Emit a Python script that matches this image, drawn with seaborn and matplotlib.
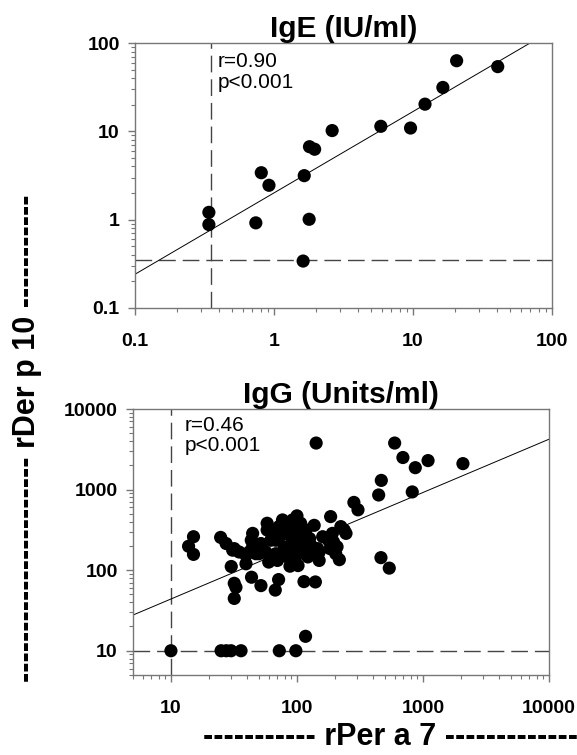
import numpy as np
import pandas as pd
import seaborn as sns
import matplotlib
matplotlib.use("Agg")
import matplotlib.pyplot as plt
from matplotlib.ticker import FixedLocator, LogLocator, FuncFormatter, NullFormatter

# IgE panel (IU/ml)
ige_x = [0.34, 0.34, 0.74, 0.81, 0.92, 1.65, 1.62, 1.79, 1.80, 1.96, 2.62,
         5.87, 9.6, 12.2, 16.4, 20.6, 40.7]
ige_y = [1.21, 0.88, 0.92, 3.4, 2.45, 3.15, 0.34, 1.01, 6.7, 6.27, 10.2,
         11.4, 10.9, 20.3, 31.4, 63, 54]
ige_fit = (0.921, 0.303)        # slope, intercept in log10 space
ige_cut = 0.35

# IgG panel (Units/ml)
igg_x = [142, 596, 693, 1097, 869, 2075, 467, 445, 822, 283, 305, 185, 464, 540,
         15.1, 13.8, 15.1,
         24.8, 27.4, 31.8, 30.1, 31.8, 32.8, 31.8, 43.6, 51.8, 67.3, 71.5, 113.7, 140, 117,
         10, 25, 27.5, 30, 36, 72.4, 98,
         88, 102, 217, 39.4, 44.5, 43.4,
         34.8, 39.4, 44.5, 47.2, 56.6, 58, 58, 59.7, 62, 68, 70, 72, 74.5, 79.3, 81.8,
         87, 89.5, 92.3, 98, 100, 104, 104, 107, 110, 115, 118, 126, 129, 135, 137,
         146, 150, 160, 183, 191, 195, 203, 208, 223, 237, 245, 51.8, 64, 84, 94.6,
         122, 76.8, 98, 68, 50, 41.8, 30.9, 150, 178, 92.3, 81.8]
igg_y = [3780, 3780, 2500, 2290, 1870, 2100, 1300, 857, 935, 693, 561, 462, 143, 106,
         260, 198, 157,
         255, 214, 185, 111, 68.7, 61.2, 44.6, 81.7, 64.3, 56.6, 76.4, 72.1, 71.4, 15.1,
         10, 10, 10, 10, 10, 10, 10,
         112, 114, 135, 120, 286, 235,
         168, 153, 195, 160, 168, 382, 315, 126, 235, 160, 132, 347, 272, 195, 286,
         382, 168, 235, 315, 472, 214, 160, 382, 272, 195, 315, 247, 204, 160, 360,
         185, 168, 260, 185, 286, 224, 160, 195, 347, 315, 286, 214, 272, 146, 132,
         146, 420, 168, 235, 160, 168, 177, 132, 235, 420, 320]
igg_fit = (0.661, 0.981)
igg_cut = 10

W, H = 577, 755
sns.set_style("white")
plt.rcParams['font.family'] = ['Liberation Sans', 'DejaVu Sans']
plt.rcParams['text.color'] = 'black'

fig = plt.figure(figsize=(W / 100, H / 100), dpi=100)
ax1 = fig.add_axes([135 / W, 1 - 308 / H, 417 / W, 265 / H])
ax2 = fig.add_axes([133 / W, 1 - 675 / H, 416 / W, 266 / H])

panels = [
    (ax1, ige_x, ige_y, ige_fit, ige_cut, (0.1, 100), (0.1, 100),
     [0.1, 1, 10, 100], [0.1, 1, 10, 100], "IgE (IU/ml)", "r=0.90\np<0.001", (0.199, 0.965)),
    (ax2, igg_x, igg_y, igg_fit, igg_cut, (5, 10000), (5, 10000),
     [10, 100, 1000, 10000], [10, 100, 1000, 10000], "IgG (Units/ml)", "r=0.46\np<0.001", (0.125, 0.975)),
]

for ax, xs, ys, fit, cut, xl, yl, xt, yt, title, stat, pos in panels:
    df = pd.DataFrame({"x": xs, "y": ys})
    sns.scatterplot(data=df, x="x", y="y", ax=ax, color="black", s=90,
                    edgecolor="none", zorder=3)
    ax.set_xscale("log")
    ax.set_yscale("log")
    ax.set_xlim(*xl)
    ax.set_ylim(*yl)
    lx = np.array(xl, dtype=float)
    ax.plot(lx, 10 ** (fit[1] + fit[0] * np.log10(lx)), color="black", lw=0.7, zorder=2)
    ax.axvline(cut, color="#444444", lw=1, ls=(0, (12, 5)), zorder=1)
    ax.axhline(cut, color="#444444", lw=1, ls=(0, (12, 5)), zorder=1)
    ax.xaxis.set_major_locator(FixedLocator(xt))
    ax.yaxis.set_major_locator(FixedLocator(yt))
    ax.xaxis.set_minor_locator(LogLocator(base=10, subs=np.arange(2, 10)))
    ax.yaxis.set_minor_locator(LogLocator(base=10, subs=np.arange(2, 10)))
    fmt = FuncFormatter(lambda v, p: "%g" % v)
    ax.xaxis.set_major_formatter(fmt)
    ax.yaxis.set_major_formatter(fmt)
    ax.xaxis.set_minor_formatter(NullFormatter())
    ax.yaxis.set_minor_formatter(NullFormatter())
    ax.tick_params(which="major", direction="out", length=5, width=1, color="#777777",
                   labelsize=14, labelcolor="black", pad=6, left=True, bottom=True)
    ax.tick_params(which="minor", direction="out", length=3, width=0.8, color="#777777",
                   left=True, bottom=True)
    ax.tick_params(axis="x", which="major", pad=13)
    for lab in ax.get_xticklabels() + ax.get_yticklabels():
        lab.set_fontweight("bold")
    for sp in ax.spines.values():
        sp.set_color("#777777")
        sp.set_linewidth(1)
    ax.set_xlabel("")
    ax.set_ylabel("")
    ax.set_title(title, fontsize=21.5, fontweight="bold", pad=2, color="black")
    ax.text(pos[0], pos[1], stat, transform=ax.transAxes, fontsize=15,
            va="top", ha="left", linespacing=1.1)

fig.text(27 / W, 1 - 682 / H, "-" * 22 + " rDer p 10 " + "-" * 11, rotation=90,
         fontsize=22, fontweight="bold", ha="center", va="bottom")
fig.text(203 / W, 1 - 737 / H, "-" * 11 + " rPer a 7 " + "-" * 13,
         fontsize=22, fontweight="bold", ha="left", va="center")

fig.savefig("out.png", dpi=100)
